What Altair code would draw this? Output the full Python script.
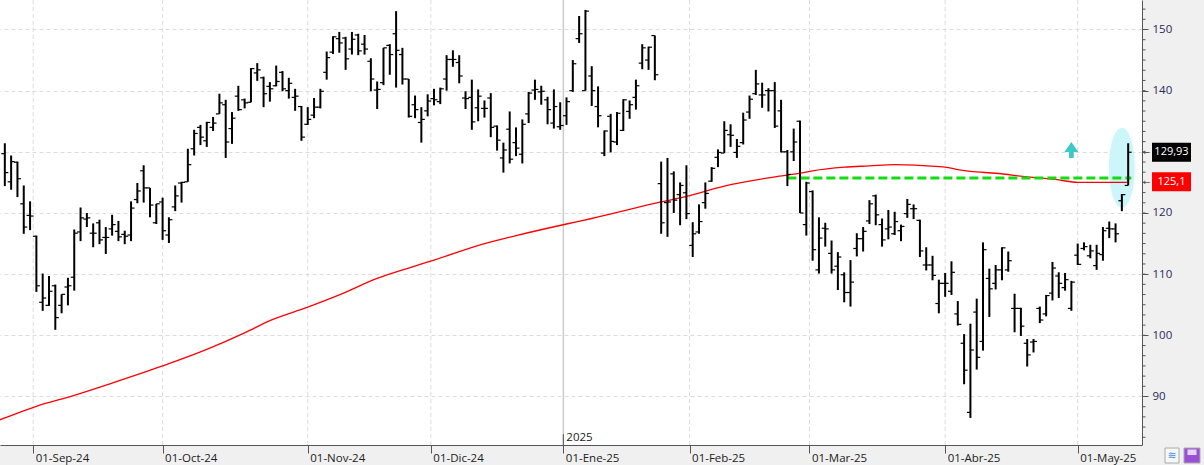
import altair as alt
import pandas as pd
import numpy as np

# ---------------- data ----------------
opens = [129.7,125.1,128.3,121.5,119.6,116.2,105.4,104.9,108.1,104.9,
107.9,109.5,116.9,119.0,116.7,118.4,116.0,117.4,117.0,116.5,
116.4,122.2,126.9,124.1,118.4,121.8,116.4,121.0,124.9,125.1,
130.5,134.0,131.8,134.0,136.2,137.7,133.8,139.1,138.5,138.1,
142.9,142.1,140.7,140.8,143.0,140.0,138.9,137.4,134.5,136.0,
137.3,143.0,146.3,148.5,148.6,146.8,149.1,147.6,144.8,140.1,
141.3,147.4,149.3,145.9,141.9,137.7,134.8,136.7,138.7,138.2,
141.9,145.1,144.6,138.8,138.9,137.2,137.1,138.8,134.2,129.0,
133.7,131.5,129.6,136.2,140.1,139.8,138.5,134.7,134.1,135.9,
140.0,148.5,140.0,142.4,137.4,129.8,135.8,131.6,133.5,136.6,
138.9,144.5,145.0,149.0,124.8,121.7,126.4,123.0,123.3,114.7,
116.9,121.7,125.2,129.1,129.8,132.8,129.9,131.5,136.5,139.5,
139.3,140.0,140.0,136.7,130.0,130.0,135.0,118.1,123.5,110.7,
117.5,113.4,111.3,109.9,107.0,114.2,115.8,118.7,122.8,118.1,
117.4,116.6,117.1,119.9,120.7,118.8,111.5,111.5,105.2,108.5,
107.2,103.5,98.7,87.4,103.8,99.0,109.3,108.5,110.7,110.7,
104.4,104.4,98.7,98.9,104.4,103.5,106.9,109.7,107.8,104.4,
113.1,114.2,113.0,111.4,113.2,117.5,117.4,122.0,124.5]

highs = [131.4,129.4,128.4,124.5,121.9,116.3,110.1,109.7,108.3,106.7,
109.4,117.3,120.9,120.0,118.3,118.9,117.7,119.7,118.7,117.1,
121.9,124.9,127.8,124.1,121.5,122.5,119.3,124.5,125.1,130.5,
133.6,134.4,134.9,135.7,139.5,138.5,136.5,140.8,138.7,143.7,
144.5,142.3,141.4,144.1,143.2,142.1,140.3,137.5,137.3,138.8,
140.3,146.4,148.9,149.6,148.8,149.6,149.3,149.1,145.3,141.5,
147.0,147.6,153.0,147.0,141.9,139.2,137.3,139.4,140.3,140.5,
145.8,146.6,145.8,139.9,141.8,140.2,138.4,139.6,134.3,131.5,
136.6,134.0,135.3,139.8,141.8,140.8,139.0,140.2,138.1,138.9,
145.0,152.2,153.2,144.0,140.7,133.5,136.2,136.5,138.6,138.4,
141.8,147.6,147.2,149.0,128.4,129.0,126.8,125.0,127.8,118.5,
121.4,125.0,127.5,130.4,135.0,134.5,132.1,136.4,139.2,143.4,
141.3,140.4,141.4,138.5,130.3,133.8,135.1,125.1,123.7,119.3,
118.4,115.5,113.6,110.3,112.3,116.7,117.7,122.1,123.0,119.1,
120.5,120.2,118.1,122.3,121.4,118.9,114.4,113.0,109.1,110.2,
112.1,105.6,100.2,101.9,106.0,115.2,110.9,111.5,114.4,113.7,
106.8,104.5,99.4,99.4,104.7,106.6,112.0,110.3,110.2,108.9,
115.0,115.2,114.8,114.8,117.7,118.6,118.3,123.1,131.4]

lows = [124.4,123.8,122.6,116.6,117.2,107.1,104.0,104.8,100.9,103.6,
104.9,107.3,115.4,117.7,114.4,114.9,113.3,116.3,115.4,114.9,
115.4,121.6,121.7,119.3,118.2,115.6,115.1,120.3,121.7,125.1,
129.4,131.1,130.8,133.4,136.2,129.0,131.3,136.7,137.1,138.1,
141.6,137.3,138.2,140.7,139.9,138.7,136.7,131.8,134.4,135.5,
137.1,141.8,146.0,146.2,143.4,145.9,145.8,145.9,139.9,137.0,
140.9,142.6,140.5,141.0,135.6,135.5,131.5,135.8,137.6,137.8,
140.0,143.9,141.2,137.0,133.6,135.0,135.6,132.4,130.2,126.6,
128.1,129.3,128.1,134.7,138.5,137.7,134.5,133.8,133.6,134.4,
139.8,147.8,140.0,137.5,134.0,129.3,129.9,131.1,133.4,135.4,
136.9,143.5,143.4,141.7,116.6,116.1,120.0,118.0,119.0,112.8,
116.6,120.7,125.1,127.5,129.8,130.8,129.0,131.2,135.4,139.3,
137.2,136.6,133.9,129.9,124.4,128.5,120.0,116.3,112.2,110.1,
114.5,110.1,107.4,105.4,104.7,112.9,113.7,118.2,118.0,114.5,
115.7,116.4,115.4,119.2,119.0,112.8,110.6,109.0,103.6,106.3,
106.6,101.6,92.0,86.5,94.4,97.5,103.0,107.5,109.0,110.4,
100.5,99.9,94.9,97.2,102.0,103.1,105.7,106.1,107.3,104.0,
111.5,113.9,112.6,110.7,112.2,115.9,115.2,120.3,124.5]

closes = [126.6,128.4,125.6,117.7,119.5,108.1,106.1,107.2,102.9,106.7,
108.1,116.7,119.2,119.2,116.7,115.6,116.0,118.1,116.1,116.2,
120.8,123.6,124.1,121.3,121.5,117.1,118.9,122.8,125.0,127.9,
133.0,132.4,134.8,134.7,138.0,131.6,135.5,136.9,138.0,143.6,
143.4,139.5,140.3,141.5,140.3,141.2,139.1,132.4,135.3,137.3,
139.9,145.4,148.8,147.8,145.2,148.4,146.5,146.8,141.9,140.2,
147.0,145.9,146.6,141.9,135.8,136.9,135.3,138.3,138.5,140.3,
145.1,145.1,142.4,138.7,134.9,139.1,137.1,134.0,131.9,130.3,
128.8,130.6,134.5,139.6,140.2,139.9,136.9,137.4,134.3,138.2,
144.4,149.3,153.0,140.0,135.9,133.4,131.7,136.3,138.5,137.7,
140.8,147.0,147.1,142.6,118.4,121.8,122.1,124.5,119.9,116.6,
118.6,123.2,127.3,129.9,133.5,132.7,130.9,135.2,138.6,141.1,
139.3,140.0,134.2,130.0,126.3,131.6,120.0,124.9,114.0,115.9,
117.4,110.7,112.8,107.0,108.7,115.8,117.0,121.5,119.7,115.6,
117.7,118.6,117.8,121.4,120.7,113.8,111.5,109.8,108.5,108.5,
110.3,101.8,94.3,97.6,96.4,114.0,107.6,110.7,114.3,112.2,
104.4,101.5,96.8,99.0,102.5,106.5,111.0,108.5,109.1,108.7,
111.6,114.5,113.8,113.4,117.1,117.4,116.6,123.0,129.93]

# 200-session moving average (sampled at bar indices)
ma_idx = [-1, 0, 5, 11, 17, 25, 32, 38, 42, 48, 53, 59, 64, 68, 76, 81, 89, 93,
          104, 108, 114, 122, 126, 128, 133, 137, 141, 146, 149, 151, 153,
          157, 162, 167, 170, 178]
ma_val = [86.1, 86.5, 88.4, 90.2, 92.2, 95.0, 97.7, 100.4, 102.4, 104.6, 106.6,
          109.3, 111.0, 112.3, 115.0, 116.3, 118.2, 119.1, 121.8, 122.7, 124.4,
          125.9, 126.5, 126.9, 127.5, 127.7, 127.9, 127.7, 127.5, 127.1, 126.8,
          126.5, 125.9, 125.4, 125.0, 125.0]

month_pos = [4.5, 25, 48, 67.5, 88.5, 108.5, 127.5, 149, 170]
month_labels = ["01-Sep-24", "01-Oct-24", "01-Nov-24", "01-Dic-24", "01-Ene-25",
                "01-Feb-25", "01-Mar-25", "01-Abr-25", "01-May-25"]
year_pos = [88.5]
year_labels = ["2025"]

price_ticks = [90, 100, 110, 120, 130, 140, 150]
hidden_price_labels = [130]   # covered by the last-price tag in the reference

level_price = [125.7]
level_start = [124]
level_end = [178.5]

signal_idx = [169]
signal_price = [130.3]

highlight_idx = [177]
highlight_price = [127.4]

tag_texts = ["129,93", "125,1"]
tag_prices = [129.93, 125.1]
tag_colors = ["#000000", "#ff0000"]

# ---------------- scales ----------------
n = len(closes)
bars = pd.DataFrame({"i": list(range(n)), "o": opens[:n], "h": highs[:n],
                     "l": lows[:n], "c": closes[:n]})
ma_df = pd.DataFrame({"i": ma_idx, "v": ma_val})

W, H = 1142, 445
xs = alt.Scale(domain=[-0.764, 180.19], nice=False, zero=False)
ys = alt.Scale(domain=[82.07, 154.82], nice=False, zero=False)

label_expr = "''"
for p, lab in reversed(list(zip(month_pos, month_labels))):
    label_expr = f"datum.value == {p} ? '{lab}' : {label_expr}"

y_label_expr = "datum.label"
for v in hidden_price_labels:
    y_label_expr = f"datum.value == {v} ? '' : {y_label_expr}"

FONT = "Open Sans"

x_axis = alt.Axis(values=month_pos, labelExpr=label_expr, grid=False, title=None,
                  tickSize=8, tickColor="#555555", domainColor="#555555",
                  labelAlign="left", labelBaseline="top", labelPadding=-1,
                  labelOffset=2, labelFont=FONT, labelFontSize=11.5,
                  labelColor="#222222", labelFlush=False, labelOverlap=False,
                  labelBound=False)
y_axis = alt.Axis(values=price_ticks, orient="right", grid=True, gridDash=[4, 3],
                  gridColor="#dcdcdc", title=None, tickSize=6, tickColor="#555555",
                  domainColor="#555555", labelPadding=4, labelFont=FONT,
                  labelFontSize=11.5, labelColor="#2a2a5a", labelExpr=y_label_expr)

base = alt.Chart(bars)

# vertical grid (month starts, except year separator)
grid_df = pd.DataFrame({"p": [p for p in month_pos if p not in year_pos]})
vgrid = alt.Chart(grid_df).mark_rule(color="#dcdcdc", strokeDash=[4, 3], strokeWidth=1).encode(
    x=alt.X("p:Q", scale=xs, axis=x_axis))

year_df = pd.DataFrame({"p": year_pos, "t": year_labels})
year_line = alt.Chart(year_df).mark_rule(color="#cccccc", strokeWidth=1.5).encode(
    x=alt.X("p:Q", scale=xs))
year_tick = alt.Chart(year_df).mark_rule(color="#555555", strokeWidth=1).encode(
    x=alt.X("p:Q", scale=xs), y=alt.value(434), y2=alt.value(445))
year_text = alt.Chart(year_df).mark_text(align="left", baseline="middle", dx=3,
                                         font=FONT, fontSize=11.5, color="#222222").encode(
    x=alt.X("p:Q", scale=xs), y=alt.value(438), text="t:N")

# highlight ellipse
k = 0.5523
a = 0.325
ell_path = (f"M0,-1 C{k*a:.4f},-1 {a},{-k} {a},0 C{a},{k} {k*a:.4f},1 0,1 "
            f"C{-k*a:.4f},1 {-a},{k} {-a},0 C{-a},{-k} {-k*a:.4f},-1 0,-1 Z")
hl_df = pd.DataFrame({"i": highlight_idx, "p": highlight_price})
ellipse = alt.Chart(hl_df).mark_point(shape=ell_path, size=6400, filled=True,
                                      color="#ccf6fa", opacity=1, strokeWidth=0).encode(
    x=alt.X("i:Q", scale=xs), y=alt.Y("p:Q", scale=ys))

ma_line = alt.Chart(ma_df).mark_line(color="#ff0000", strokeWidth=1.3, clip=True,
                                     interpolate="monotone").encode(
    x=alt.X("i:Q", scale=xs), y=alt.Y("v:Q", scale=ys))

lvl_df = pd.DataFrame({"s": level_start, "e": level_end, "p": level_price})
level = alt.Chart(lvl_df).mark_rule(color="#11dd11", strokeWidth=3, strokeDash=[9, 4]).encode(
    x=alt.X("s:Q", scale=xs), x2="e:Q", y=alt.Y("p:Q", scale=ys))

hl = base.mark_rule(color="#000000", strokeWidth=2).encode(
    x=alt.X("i:Q", scale=xs, axis=x_axis),
    y=alt.Y("l:Q", scale=ys, axis=y_axis), y2="h:Q")
open_tick = base.mark_rule(color="#000000", strokeWidth=1.2, xOffset=-3.5, x2Offset=0).encode(
    x=alt.X("i:Q", scale=xs), x2="i:Q", y=alt.Y("o:Q", scale=ys))
close_tick = base.mark_rule(color="#000000", strokeWidth=1.2, xOffset=0, x2Offset=3.5).encode(
    x=alt.X("i:Q", scale=xs), x2="i:Q", y=alt.Y("c:Q", scale=ys))

arrow_path = "M0,-1 L0.875,0.25 L0.3,0.25 L0.3,1 L-0.3,1 L-0.3,0.25 L-0.875,0.25 Z"
sig_df = pd.DataFrame({"i": signal_idx, "p": signal_price})
arrow = alt.Chart(sig_df).mark_point(shape=arrow_path, size=256, filled=True,
                                     color="#3ec9c9", opacity=1, strokeWidth=0).encode(
    x=alt.X("i:Q", scale=xs), y=alt.Y("p:Q", scale=ys))

# minor ticks on the price axis
minor_df = pd.DataFrame({"v": np.round(np.arange(80, 156, 10 / 6), 3)})
minor_df = minor_df[(minor_df.v > 82.1) & (minor_df.v < 154.8)]
minor = alt.Chart(minor_df).mark_rule(color="#555555", strokeWidth=1).encode(
    x=alt.value(W), x2=alt.value(W + 3.5), y=alt.Y("v:Q", scale=ys))

# price tags on the axis
tag_df = pd.DataFrame({"t": tag_texts, "p": tag_prices, "col": tag_colors})
box_path = "M-1,-0.49 L1,-0.49 L1,0.49 L-1,0.49 Z"
tag_box = alt.Chart(tag_df).mark_point(shape=box_path, size=1521, filled=True,
                                       opacity=1, strokeWidth=0).encode(
    x=alt.value(1171.5), y=alt.Y("p:Q", scale=ys),
    color=alt.Color("col:N", scale=None))
tag_text = alt.Chart(tag_df).mark_text(font=FONT, fontSize=11, color="white",
                                       align="center", baseline="middle").encode(
    x=alt.value(1171.5), y=alt.Y("p:Q", scale=ys), text="t:N")
tag_arrow = alt.Chart(tag_df).mark_text(font="DejaVu Sans", fontSize=9, color="#555555",
                                        align="center", baseline="middle").encode(
    x=alt.value(1146.5), y=alt.Y("p:Q", scale=ys), text=alt.value("←"))

# toolbar icons at bottom right
one = alt.Data(values=[{"k": 1}])
icon1 = alt.Chart(one).mark_rect(fill="#f7f7f7", stroke="#aaaaaa", strokeWidth=1).encode(
    x=alt.value(1165), x2=alt.value(1179), y=alt.value(448), y2=alt.value(463))
icon1_txt = alt.Chart(one).mark_text(font="DejaVu Sans", fontSize=11, color="#4a90d9",
                                     align="center", baseline="middle").encode(
    x=alt.value(1172), y=alt.value(455.5), text=alt.value("≋"))
icon2 = alt.Chart(one).mark_rect(fill="#9b4fd6", stroke="#aaaaaa", strokeWidth=1).encode(
    x=alt.value(1184), x2=alt.value(1200), y=alt.value(448), y2=alt.value(463))
icon2_in = alt.Chart(one).mark_rect(fill="#e6d4f5").encode(
    x=alt.value(1187.5), x2=alt.value(1196.5), y=alt.value(449.5), y2=alt.value(455))

chart = alt.layer(
    vgrid, year_line, ellipse, ma_line, level, hl, open_tick, close_tick,
    arrow, year_tick, year_text, minor, tag_box, tag_text, tag_arrow,
    icon1, icon1_txt, icon2, icon2_in
).properties(
    width=W, height=H, autosize="none",
    padding={"left": 0, "top": 0, "right": 62, "bottom": 20},
    background="#f0f0f0"
).configure_view(fill="white", strokeWidth=0)

chart.save("out.html", embed_options={"renderer": "svg", "actions": False})
